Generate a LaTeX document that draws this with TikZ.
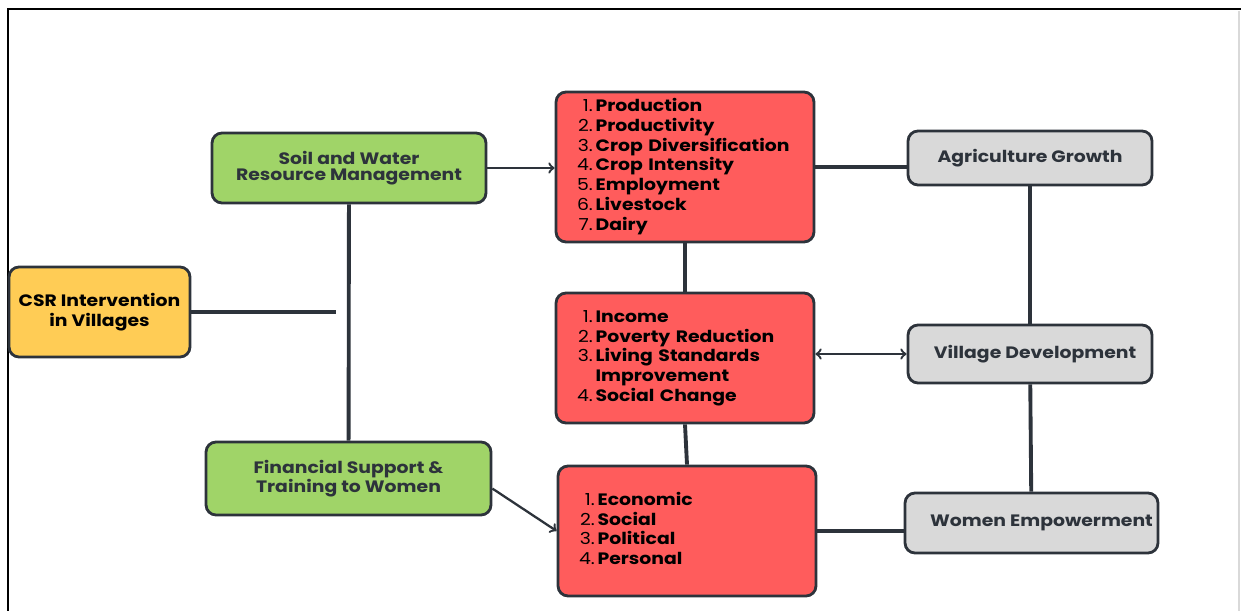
\documentclass[tikz,border=0pt]{standalone}
\usepackage{fontspec}
\setmainfont{Poppins}[FakeStretch=1.14]
\usetikzlibrary{arrows}
\definecolor{leaf}{HTML}{A0D468}
\definecolor{sun}{HTML}{FFCC55}
\definecolor{coral}{HTML}{FF5C5C}
\definecolor{ash}{HTML}{D9D9D9}
\definecolor{ink}{HTML}{2D333B}

\begin{document}
\begin{tikzpicture}[x=0.02cm,y=-0.02cm,>=to,
	Box/.style = {draw=ink, line width=1.6pt, rounded corners=0.2cm, align=center, inner sep=0pt},
	Cause/.style = {Box, fill=leaf, text=ink, font=\fontsize{9.4}{9}\selectfont\bfseries},
	Effect/.style = {Box, fill=coral, text=black, align=left, text width=4.32cm, inner xsep=0.42cm, font=\fontsize{9.4}{11.3}\selectfont},
	Goal/.style = {Box, fill=ash, text=ink, font=\fontsize{9.4}{11.3}\selectfont\bfseries},
	Link/.style = {draw=ink, line width=2.2pt},
	Arrow/.style = {draw=ink, line width=1.3pt}]
	\useasboundingbox (0,0) rectangle (1241,611);
	\draw[line width=1.4pt] (8,611) -- (8,9) -- (1241,9);
	\draw[black!15, line width=0.8pt] (1239,11) -- (1239,611);

	\node[Box, fill=sun, font=\fontsize{9.4}{11.3}\selectfont\bfseries, minimum width=3.62cm, minimum height=1.8cm] (csr) at (99.5,312) {CSR Intervention\\in Villages};
	\node[Cause, minimum width=5.48cm, minimum height=1.4cm] (soil) at (349,168) {Soil and Water\\Resource Management};
	\node[Cause, minimum width=5.7cm, minimum height=1.46cm] (fin) at (348.5,478.5) {Financial Support \&\\Training to Women};

	\node[Effect, minimum height=3cm] (prod) at (685,167) {\begin{tabular}{@{}r@{\,}l@{}}
		1. & \textbf{Production}\\
		2. & \textbf{Productivity}\\
		3. & \textbf{Crop Diversification}\\
		4. & \textbf{Crop Intensity}\\
		5. & \textbf{Employment}\\
		6. & \textbf{Livestock}\\
		7. & \textbf{Dairy}
	\end{tabular}};
	\node[Effect, minimum height=2.6cm] (inc) at (685,358) {\begin{tabular}{@{}r@{\,}l@{}}
		1. & \textbf{Income}\\
		2. & \textbf{Poverty Reduction}\\
		3. & \textbf{Living Standards}\\
		   & \textbf{Improvement}\\
		4. & \textbf{Social Change}
	\end{tabular}};
	\node[Effect, minimum height=2.6cm] (emp) at (687,531) {\begin{tabular}{@{}r@{\,}l@{}}
		1. & \textbf{Economic}\\
		2. & \textbf{Social}\\
		3. & \textbf{Political}\\
		4. & \textbf{Personal}
	\end{tabular}};

	\node[Goal, minimum width=4.88cm, minimum height=1.08cm] (growth) at (1030,158) {Agriculture Growth};
	\node[Goal, minimum width=4.88cm, minimum height=1.16cm] (village) at (1030,354) {\hspace*{0.2cm}Village Development};
	\node[Goal, minimum width=5.06cm, minimum height=1.2cm] (empower) at (1031.5,523) {\hspace*{0.4cm}Women Empowerment};

	\coordinate (stub) at (336,312);
	\draw[Link] (csr) -- (stub);
	\draw[Link] (soil) -- (fin);
	\draw[Arrow,->] (soil.east) -- (soil.east -| prod.west);
	\draw[Arrow,->] (fin.356) -- (emp.west);
	\draw[Link] (prod) -- (inc);
	\draw[Link] (inc.south) -- (emp.north);
	\draw[Link] (prod.east) -- (prod.east -| growth.west);
	\draw[Arrow,<->] (inc.east |- village.west) -- (village.west);
	\draw[Link] (emp.east) -- (emp.east -| empower.west);
	\draw[Link] (growth) -- (village);
	\draw[Link] (village) -- (empower);
\end{tikzpicture}
\end{document}
